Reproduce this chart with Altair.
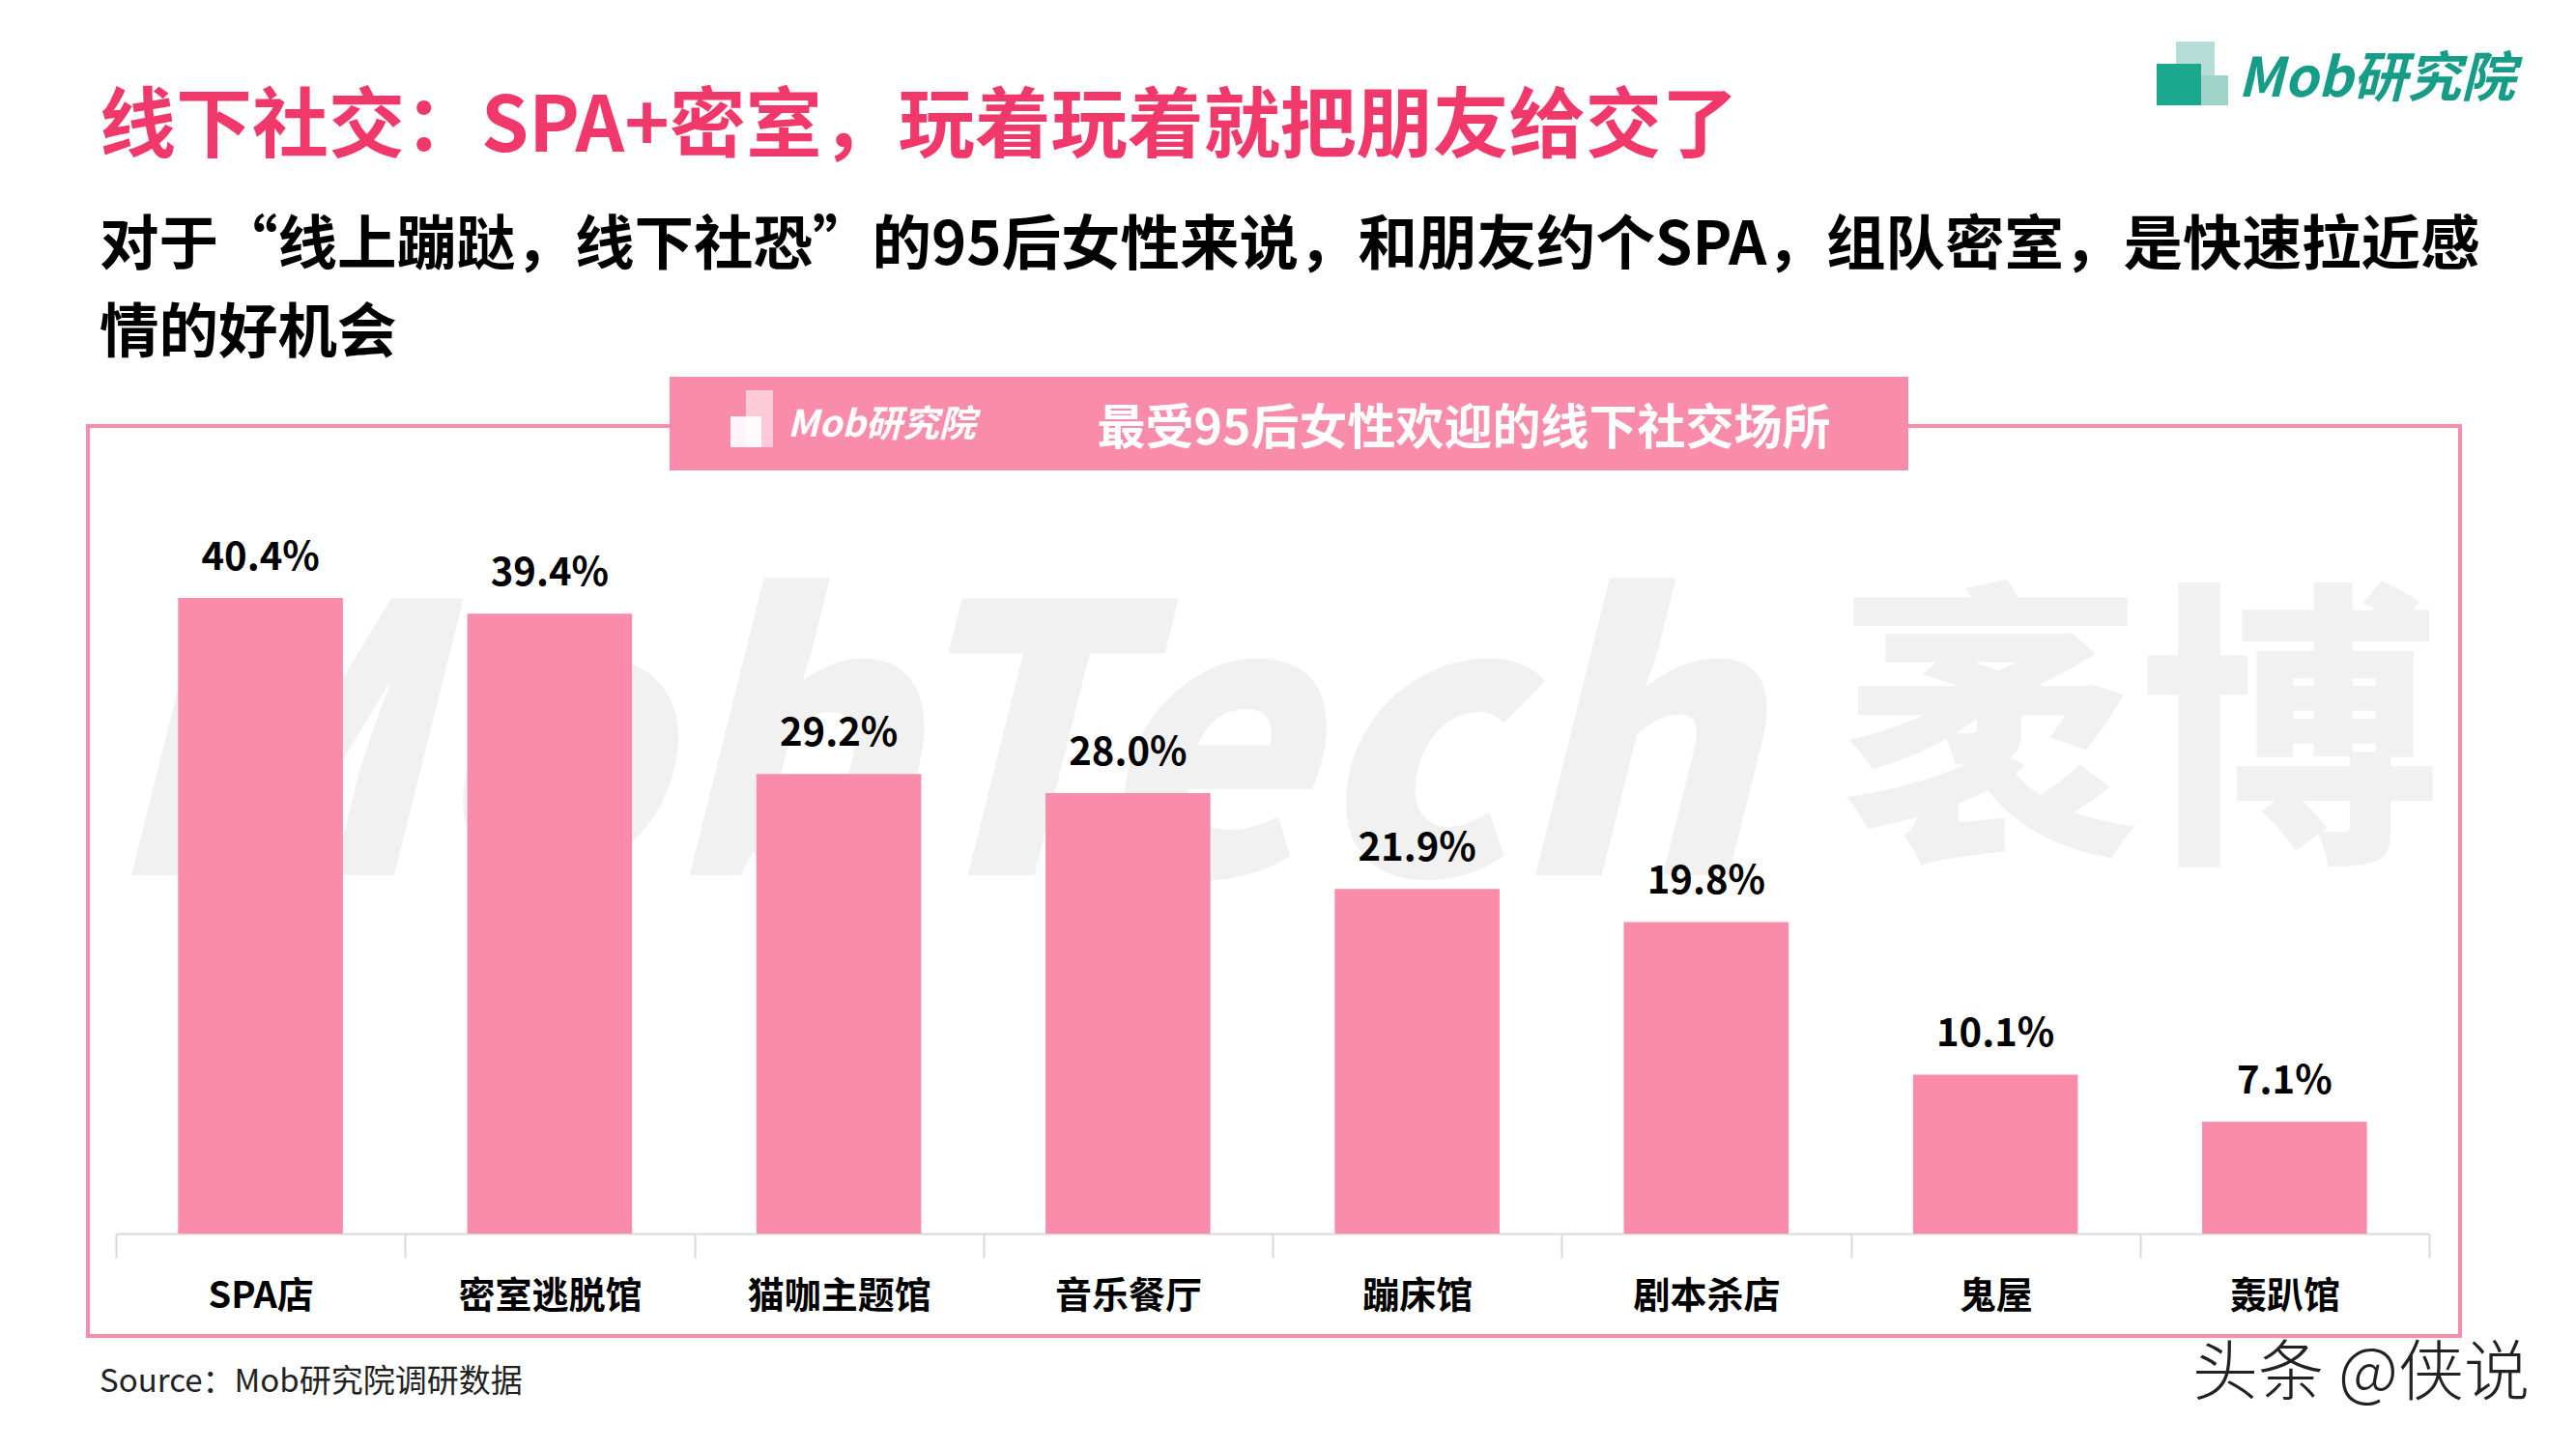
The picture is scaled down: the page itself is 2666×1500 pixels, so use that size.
import altair as alt
import pandas as pd

categories = ["SPA店", "密室逃脱馆", "猫咖主题馆", "音乐餐厅", "蹦床馆", "剧本杀店", "鬼屋", "轰趴馆"]
values = [40.4, 39.4, 29.2, 28.0, 21.9, 19.8, 10.1, 7.1]

title_text = "线下社交：SPA+密室，玩着玩着就把朋友给交了"
subtitle_lines = ["对于“线上蹦跶，线下社恐”的95后女性来说，和朋友约个SPA，组队密室，是快速拉近感",
                  "情的好机会"]
panel_title = "最受95后女性欢迎的线下社交场所"
logo_text = "Mob研究院"
source_text = "Source：Mob研究院调研数据"
credit_text = "头条 @侠说"
watermark_latin = "MobTech"
watermark_cjk = "袤博"

FONT = "Noto Sans CJK SC"
PINK = "#F98BAB"
RED = "#F0386B"
TEAL = "#179C88"

df = pd.DataFrame({
    "cat": categories,
    "val": values,
    "label": [f"{v:.1f}%" for v in values],
})


def one(text):
    return pd.DataFrame({"t": [text]})


def text_layer(text, x, y, size, color, weight="bold", align="left", baseline="middle", style="normal"):
    return alt.Chart(one(text)).mark_text(
        font=FONT, fontSize=size, fontWeight=weight, color=color, align=align,
        baseline=baseline, fontStyle=style
    ).encode(text="t:N", x=alt.value(x), y=alt.value(y))


def rect_layer(x, x2, y, y2, **kw):
    return alt.Chart(one("r")).mark_rect(**kw).encode(
        x=alt.value(x), x2=alt.value(x2), y=alt.value(y), y2=alt.value(y2))


# watermark
wm1 = text_layer(watermark_latin, -17, 362, 385, "#F1F1F1", weight=900, baseline="alphabetic", style="italic")
wm2 = text_layer(watermark_cjk, 1785, 324, 310, "#F1F1F1", weight=900, baseline="alphabetic")

xenc = alt.X(
    "cat:N", sort=categories,
    scale=alt.Scale(paddingInner=0, paddingOuter=0),
    axis=alt.Axis(
        title=None, labelAngle=0, labelFont=FONT, labelFontSize=38, labelFontWeight="bold",
        labelColor="#000000", labelPadding=40, labelBaseline="middle", labelLimit=0,
        tickBand="extent", tickSize=25, tickColor="#D9D9D9", tickWidth=2,
        domainColor="#D9D9D9", domainWidth=2, grid=False,
    ),
)
yenc = alt.Y("val:Q", scale=alt.Scale(domain=[0, 45]), axis=None)

bars = alt.Chart(df).mark_bar(color=PINK, width=alt.RelativeBandSize(0.57)).encode(x=xenc, y=yenc)
labels = alt.Chart(df).mark_text(
    font=FONT, fontSize=40, fontWeight="bold", color="#000000", baseline="middle", dy=-41
).encode(x=xenc, y=yenc, text="label:N")

border = rect_layer(-29, 2426, -103, 839, fill="transparent", stroke=PINK, strokeWidth=4)
header = rect_layer(573, 1855, -154, -57, fill=PINK)
header_title = text_layer(panel_title, 1395, -99, 50, "#FFFFFF", align="center")
header_logo = text_layer(logo_text, 695, -103, 38, "#FFFFFF", style="italic")
hicon1 = rect_layer(652, 680, -140, -81, fill="#FFFFFF", opacity=0.55)
hicon2 = rect_layer(636, 668, -113, -81, fill="#FFFFFF", opacity=0.9)

title = text_layer(title_text, -17, -411, 79, RED)
sub1 = text_layer(subtitle_lines[0], -17, -288, 61.5, "#000000")
sub2 = text_layer(subtitle_lines[1], -17, -197, 61.5, "#000000")

logo = text_layer(logo_text, 2196, -461, 56, TEAL, style="italic")
icon1 = rect_layer(2132, 2172, -501, -435, fill="#B5DDD5")
icon2 = rect_layer(2112, 2158, -478, -435, fill="#1AA88E")
icon3 = rect_layer(2158, 2186, -466, -435, fill="#9ED3C8")

source = text_layer(source_text, -17, 887, 33, "#222222", weight="normal")
credit = text_layer(credit_text, 2149, 880, 68, "#222222", weight=300)

chart = alt.layer(
    wm1, wm2, bars, labels, border, header, header_title, header_logo, hicon1, hicon2,
    title, sub1, sub2, logo, icon1, icon2, icon3, source, credit
).properties(
    width=2394, height=733,
    padding={"left": 112, "top": 536, "right": 144, "bottom": 215},
    autosize=alt.AutoSizeParams(type="none"),
    background="#FFFFFF",
).configure_view(strokeWidth=0)

chart.save("out.html", embed_options={"renderer": "svg", "actions": False})
